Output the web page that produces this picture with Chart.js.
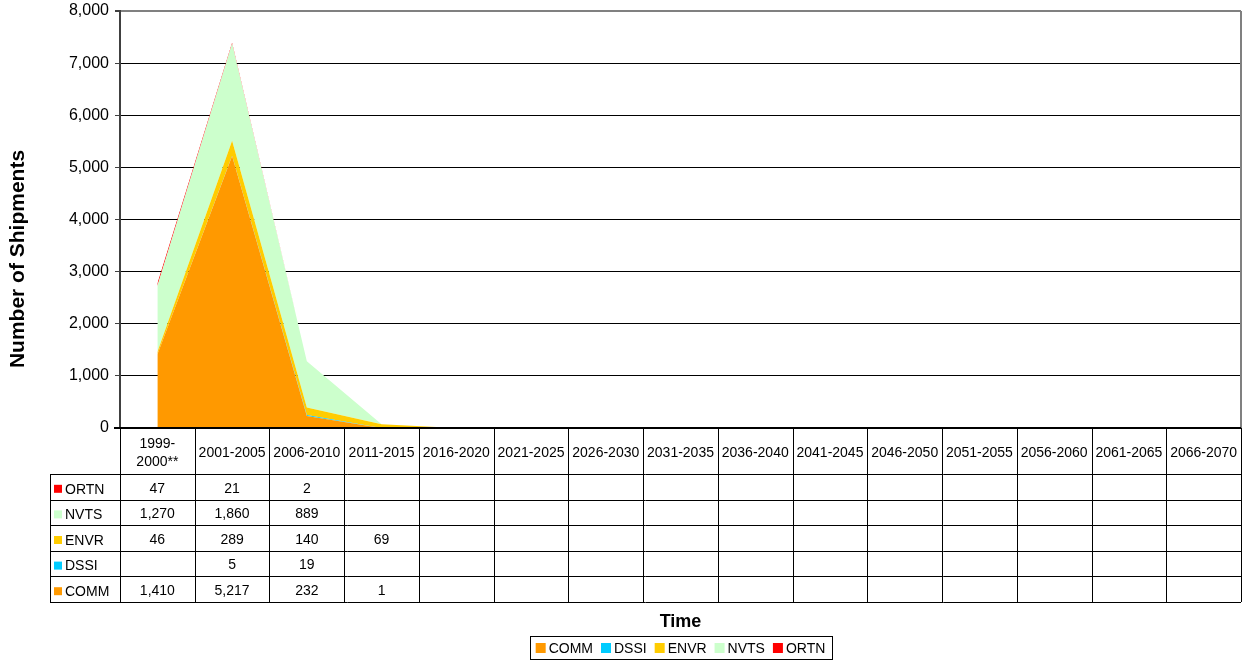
<!DOCTYPE html>
<html>
<head>
<meta charset="utf-8">
<script src="https://cdn.jsdelivr.net/npm/chart.js@4.4.0/dist/chart.umd.min.js"></script>
<style>
  body { margin: 0; background: #fff; }
  #wrap { width: 1244px; height: 662px; }
</style>
</head>
<body>
<div id="wrap"><canvas id="shipChart" width="1244" height="662"></canvas></div>
<script>
// categories along the time axis (array = two-line label)
const categories = [
  ["1999-", "2000**"], "2001-2005", "2006-2010", "2011-2015", "2016-2020",
  "2021-2025", "2026-2030", "2031-2035", "2036-2040", "2041-2045",
  "2046-2050", "2051-2055", "2056-2060", "2061-2065", "2066-2070"
];

// series values, null = empty cell in the table
const comm = [1410, 5217, 232, 1, null, null, null, null, null, null, null, null, null, null, null];
const dssi = [null, 5, 19, null, null, null, null, null, null, null, null, null, null, null, null];
const envr = [46, 289, 140, 69, null, null, null, null, null, null, null, null, null, null, null];
const nvts = [1270, 1860, 889, null, null, null, null, null, null, null, null, null, null, null, null];
const ortn = [47, 21, 2, null, null, null, null, null, null, null, null, null, null, null, null];

const yTicks = [0, 1000, 2000, 3000, 4000, 5000, 6000, 7000, 8000];

const series = [
  { name: "COMM", values: comm, color: "#FF9900" },
  { name: "DSSI", values: dssi, color: "#00CCFF" },
  { name: "ENVR", values: envr, color: "#FFCC00" },
  { name: "NVTS", values: nvts, color: "#CCFFCC" },
  { name: "ORTN", values: ortn, color: "#FF0000" }
];

const FONT = "'Liberation Sans', Arial, sans-serif";
const fmt = v => v.toLocaleString("en-US");

// draws the data table under the plot, the axis titles and the boxed legend
const tablePlugin = {
  id: "dataTable",
  afterDraw(chart) {
    const ctx = chart.ctx;
    const area = chart.chartArea;
    const xs = chart.scales.x;
    const colW = xs.getPixelForValue(1) - xs.getPixelForValue(0);
    const left = area.left, right = area.right;
    const headTop = area.bottom, headBottom = area.bottom + 46;
    const rowH = 25.6;
    const tableBottom = headBottom + rowH * series.length;
    const keyLeft = 50;

    ctx.save();
    // right border of plot area
    ctx.strokeStyle = "#808080";
    ctx.lineWidth = 2;
    ctx.beginPath();
    ctx.moveTo(right, area.top);
    ctx.lineTo(right, area.bottom);
    ctx.stroke();

    // table grid
    ctx.strokeStyle = "#000";
    ctx.lineWidth = 1;
    ctx.beginPath();
    for (let i = 0; i <= categories.length; i++) {
      const x = Math.round(left + i * colW) + 0.5;
      ctx.moveTo(x, headTop);
      ctx.lineTo(x, tableBottom);
    }
    ctx.moveTo(keyLeft + 0.5, headBottom);
    ctx.lineTo(keyLeft + 0.5, tableBottom);
    for (let r = 0; r <= series.length; r++) {
      const y = Math.round(headBottom + r * rowH) + 0.5;
      ctx.moveTo(keyLeft, y);
      ctx.lineTo(right, y);
    }
    ctx.stroke();

    // x axis line
    ctx.lineWidth = 2;
    ctx.beginPath();
    ctx.moveTo(left - 6, headTop);
    ctx.lineTo(right, headTop);
    ctx.stroke();

    // header labels
    ctx.fillStyle = "#000";
    ctx.font = "14px " + FONT;
    ctx.textAlign = "center";
    ctx.textBaseline = "middle";
    categories.forEach((c, i) => {
      const cx = xs.getPixelForValue(i);
      const lines = Array.isArray(c) ? c : [c];
      const mid = (headTop + headBottom) / 2 + 2;
      lines.forEach((t, k) => {
        ctx.fillText(t, cx, mid + (k - (lines.length - 1) / 2) * 18);
      });
    });

    // rows: top row is last series
    const rows = series.slice().reverse();
    rows.forEach((s, r) => {
      const cy = headBottom + r * rowH + rowH / 2 + 3;
      ctx.fillStyle = s.color;
      ctx.fillRect(keyLeft + 4, cy - 5, 8, 8);
      ctx.fillStyle = "#000";
      ctx.font = "14px " + FONT;
      ctx.textAlign = "left";
      ctx.fillText(s.name, keyLeft + 15, cy);
      ctx.textAlign = "center";
      s.values.forEach((v, i) => {
        if (v !== null) ctx.fillText(fmt(v), xs.getPixelForValue(i), cy - 1);
      });
    });

    // y axis title
    ctx.save();
    ctx.translate(18, 259);
    ctx.rotate(-Math.PI / 2);
    ctx.font = "bold 21px " + FONT;
    ctx.textAlign = "center";
    ctx.textBaseline = "middle";
    ctx.fillText("Number of Shipments", 0, 0);
    ctx.restore();

    // x axis title
    const midX = (left + right) / 2;
    ctx.font = "bold 18px " + FONT;
    ctx.textAlign = "center";
    ctx.textBaseline = "middle";
    ctx.fillText("Time", midX, 622);

    // legend box
    ctx.font = "14px " + FONT;
    const gap = 8, sw = 10;
    const widths = series.map(s => sw + 3 + ctx.measureText(s.name).width);
    const total = widths.reduce((a, b) => a + b, 0) + gap * (series.length - 1);
    const boxL = Math.round(midX - total / 2 - 6), boxW = Math.round(total + 12);
    ctx.strokeStyle = "#000";
    ctx.lineWidth = 1;
    ctx.strokeRect(boxL + 0.5, 636.5, boxW, 23);
    let lx = midX - total / 2;
    ctx.textAlign = "left";
    series.forEach((s, i) => {
      ctx.fillStyle = s.color;
      ctx.fillRect(lx, 643, sw, sw);
      ctx.fillStyle = "#000";
      ctx.fillText(s.name, lx + sw + 3, 649);
      lx += widths[i] + gap;
    });
    ctx.restore();
  }
};

new Chart(document.getElementById("shipChart"), {
  type: "line",
  data: {
    labels: categories,
    datasets: series.map((s, i) => ({
      label: s.name,
      data: s.values.map(v => v === null ? 0 : v),
      backgroundColor: s.color,
      borderColor: s.color,
      borderWidth: 0,
      pointRadius: 0,
      tension: 0,
      fill: i === 0 ? "origin" : "-1"
    }))
  },
  options: {
    responsive: false,
    animation: false,
    layout: { padding: { top: 11, right: 3, left: 0, bottom: 0 } },
    plugins: {
      legend: { display: false },
      tooltip: { enabled: false }
    },
    scales: {
      x: {
        offset: true,
        grid: { display: false },
        border: { display: false },
        ticks: { display: false },
        afterFit: s => { s.height = 234; }
      },
      y: {
        stacked: true,
        min: 0,
        max: 8000,
        afterBuildTicks: s => { s.ticks = yTicks.map(v => ({ value: v })); },
        afterFit: s => { s.width = 120; s.paddingTop = 0; s.paddingBottom = 0; },
        ticks: {
          color: "#000",
          font: { family: FONT, size: 16 },
          padding: 6,
          callback: v => fmt(v)
        },
        grid: {
          color: c => c.tick && c.tick.value === 8000 ? "#808080" : "#000",
          lineWidth: c => c.tick && c.tick.value === 8000 ? 2 : 1,
          tickLength: 5,
          tickColor: "#404040"
        },
        border: { color: "#404040", width: 2 }
      }
    }
  },
  plugins: [tablePlugin]
});
</script>
</body>
</html>
